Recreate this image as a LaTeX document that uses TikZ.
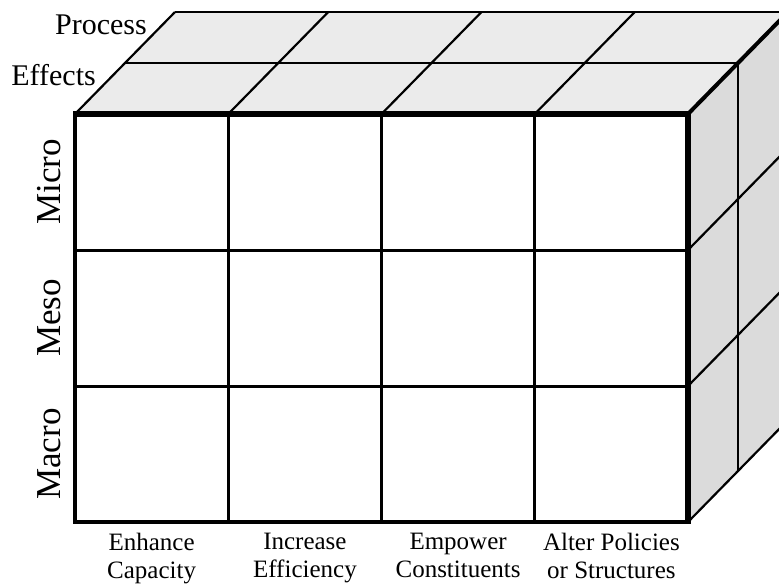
\documentclass[tikz,border=0pt]{standalone}
\usepackage{fontspec}
\setmainfont{Liberation Serif}

\begin{document}
\begin{tikzpicture}[x=1pt, y=-1pt,
    griglia/.style={line width=3pt},
    sottile/.style={line width=2.2pt},
    bordo/.style={line width=6.5pt},
    etichetta/.style={font=\fontsize{30}{30}\selectfont, anchor=base east, inner sep=0pt},
    livello/.style={font=\fontsize{35}{35}\selectfont, rotate=90, anchor=base, inner sep=0pt},
    attivita/.style={font=\fontsize{25}{28}\selectfont, align=center, anchor=north, inner sep=0pt}]
    % Parametri
    \pgfmathsetmacro{\xmin}{75}
    \pgfmathsetmacro{\xmax}{688}
    \pgfmathsetmacro{\ymin}{114}
    \pgfmathsetmacro{\ymax}{522}
    \pgfmathsetmacro{\profx}{50}
    \pgfmathsetmacro{\profy}{-51}
    \useasboundingbox (0,0) rectangle (779,587);
    \clip (0,0) rectangle (779,587);
    % Faccia superiore
    \fill[black!8] (\xmin,\ymin) -- (\xmax,\ymin) -- ++(2*\profx,2*\profy)
        -- (\xmin+2*\profx,\ymin+2*\profy) -- cycle;
    % Faccia laterale
    \fill[black!14] (\xmax,\ymin) -- ++(2*\profx,2*\profy)
        -- (\xmax+2*\profx,\ymax+2*\profy) -- (\xmax,\ymax) -- cycle;
    % Linee sopra
    \foreach \x in {75,228.25,381.5,534.75}
        \draw[sottile] (\x,\ymin) -- ++(2*\profx,2*\profy);
    \foreach \k in {1,2}
        \draw[sottile] (\xmin+\k*\profx,\ymin+\k*\profy) -- ++(\xmax-\xmin,0);
    % Linee di lato
    \foreach \y in {250,386,522}
        \draw[sottile] (\xmax,\y) -- ++(2*\profx,2*\profy);
    \draw[sottile] (\xmax+\profx,\ymin+\profy) -- (\xmax+\profx,\ymax+\profy);
    \draw[line width=4pt] (\xmax,\ymin) -- ++(2*\profx,2*\profy);
    % Faccia frontale
    \filldraw[fill=white, line width=4pt] (\xmin,\ymin) rectangle (\xmax,\ymax);
    \foreach \x in {228.25,381.5,534.75}
        \draw[griglia] (\x,\ymin) -- (\x,\ymax);
    \foreach \y in {250,386}
        \draw[griglia] (\xmin,\y) -- (\xmax,\y);
    \draw[bordo] (\xmin-2,\ymin) -- (\xmax,\ymin) -- (\xmax,\ymax+2);
    % Etichette
    \node[etichetta] (processo) at (147,34) {Process};
    \node[etichetta] (effetti) at (96,85) {Effects};
    \node[livello] (micro) at (60,182) {Micro};
    \node[livello] (meso) at (60,318) {Meso};
    \node[livello] (macro) at (60,454) {Macro};
    \node[attivita] (capacita) at (151.6,533) {Enhance\\Capacity};
    \node[attivita] (efficienza) at (304.9,533) {Increase\\Efficiency};
    \node[attivita] (costituenti) at (458.1,533) {Empower\\Constituents};
    \node[attivita] (politiche) at (611.4,533) {Alter Policies\\or Structures};
\end{tikzpicture}
\end{document}
